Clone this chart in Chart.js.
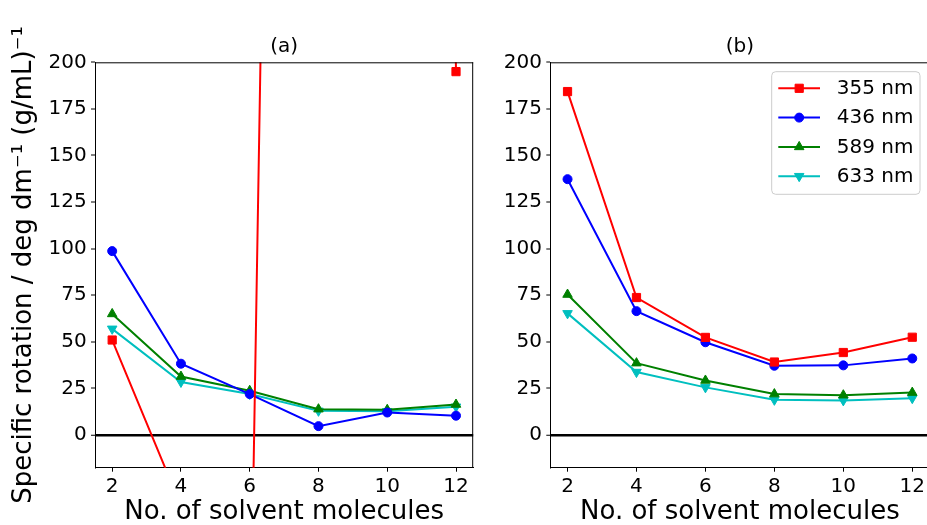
<!DOCTYPE html>
<html lang="en">
<head>
<meta charset="UTF-8">
<title>Specific rotation vs. number of solvent molecules</title>
<script src="https://cdn.jsdelivr.net/npm/chart.js"></script>
<style>
  html, body { margin: 0; padding: 0; background: #fff; overflow: hidden; width: 927px; height: 525px; }
  .panel { position: absolute; top: 0; height: 525px; }
  #panelA { left: 0; width: 480px; }
  #panelB { left: 480px; width: 460px; }
</style>
</head>
<body>
<div class="panel" id="panelA"><canvas id="chartA" width="480" height="525"></canvas></div>
<div class="panel" id="panelB"><canvas id="chartB" width="460" height="525"></canvas></div>

<script>
// data
const molecules = [2, 4, 6, 8, 10, 12];
const xTicks = [2, 4, 6, 8, 10, 12];
const yTicks = [0, 25, 50, 75, 100, 125, 150, 175, 200];
const wavelengths = ['355 nm', '436 nm', '589 nm', '633 nm'];

// panel (a) - the 355 nm series runs far off the axes
const a355 = [51, -38, -140, 2040, 2500, 195];
const a436 = [98.7, 38.3, 22, 4.8, 12.1, 10.4];
const a589 = [65, 31.4, 23.8, 13.9, 13.6, 16.4];
const a633 = [57, 28.5, 22, 13, 12.8, 15.2];

// panel (b)
const b355 = [184.3, 73.8, 52.4, 39.2, 44.3, 52.5];
const b436 = [137.3, 66.5, 49.8, 37.2, 37.4, 41.1];
const b589 = [75.4, 38.6, 29.3, 22, 21.4, 22.8];
const b633 = [65.3, 33.8, 25.6, 18.9, 18.6, 19.8];

const colors = ['#ff0000', '#0000ff', '#008000', '#00bfbf'];
const markers = [
  { pointStyle: 'rect', pointRadius: 5.8, pointRotation: 0 },
  { pointStyle: 'circle', pointRadius: 4.5, pointRotation: 0 },
  { pointStyle: 'triangle', pointRadius: 5.5, pointRotation: 0 },
  { pointStyle: 'triangle', pointRadius: 5.5, pointRotation: 180 }
];

Chart.defaults.font.family = '"DejaVu Sans", sans-serif';
Chart.defaults.color = '#000';

function makeDatasets(series) {
  return series.map((vals, i) => ({
    label: wavelengths[i],
    data: molecules.map((m, j) => ({ x: m, y: vals[j] })),
    borderColor: colors[i],
    backgroundColor: colors[i],
    borderWidth: 2,
    pointBorderWidth: 1,
    pointHoverRadius: markers[i].pointRadius,
    clip: 0,
    ...markers[i]
  }));
}

// top/right spines
const frame = {
  id: 'frame',
  afterDraw(chart) {
    const { ctx, chartArea: a } = chart;
    ctx.save();
    ctx.strokeStyle = '#000';
    ctx.lineWidth = 1;
    ctx.beginPath();
    ctx.moveTo(a.left, a.top + 0.5);
    ctx.lineTo(a.right, a.top + 0.5);
    ctx.moveTo(a.right - 0.5, a.top);
    ctx.lineTo(a.right - 0.5, a.bottom);
    ctx.stroke();
    ctx.restore();
  }
};

// matplotlib-like legend: line with marker in the middle
const lineLegend = {
  id: 'lineLegend',
  afterDraw(chart) {
    const { ctx, chartArea } = chart;
    const sets = chart.data.datasets;
    const w = 148.3, h = 122.6;
    const left = chartArea.right - 9.5 - w;
    const top = chartArea.top + 9.4;
    ctx.save();
    ctx.beginPath();
    ctx.roundRect(left, top, w, h, 4);
    ctx.fillStyle = 'rgba(255,255,255,0.8)';
    ctx.fill();
    ctx.strokeStyle = '#cccccc';
    ctx.lineWidth = 1;
    ctx.stroke();
    sets.forEach((ds, i) => {
      const y = top + 16.6 + i * 29.3;
      ctx.strokeStyle = ds.borderColor;
      ctx.lineWidth = 2;
      ctx.beginPath();
      ctx.moveTo(left + 6.6, y);
      ctx.lineTo(left + 48.3, y);
      ctx.stroke();
      ctx.fillStyle = ds.backgroundColor;
      ctx.lineWidth = 1;
      Chart.helpers.drawPoint(ctx, {
        pointStyle: ds.pointStyle, radius: ds.pointRadius,
        rotation: ds.pointRotation, borderWidth: 1
      }, left + 27.5, y);
      ctx.fillStyle = '#000';
      ctx.font = '20px "DejaVu Sans"';
      ctx.textBaseline = 'middle';
      ctx.textAlign = 'left';
      ctx.fillText(ds.label, left + 65, y + 0.5);
    });
    ctx.restore();
  }
};

function makeOptions(title, yWidth, padRight, showYTitle) {
  return {
    responsive: false,
    animation: false,
    events: [],
    layout: { padding: { left: 0, right: padRight, top: 0, bottom: 0 } },
    plugins: {
      legend: { display: false },
      tooltip: { enabled: false },
      title: {
        display: true, text: title, fullSize: false,
        font: { size: 20, weight: 'normal', lineHeight: 1.2 },
        padding: { top: 34.3, bottom: 4 }
      }
    },
    scales: {
      x: {
        type: 'linear', min: 1.5, max: 12.5,
        afterBuildTicks: s => { s.ticks = xTicks.map(v => ({ value: v })); },
        afterFit: s => { s.height = 57.3; },
        ticks: { font: { size: 20 }, padding: 3, maxRotation: 0 },
        grid: { drawOnChartArea: false, tickLength: 4, tickColor: '#000', tickWidth: 1 },
        border: { display: true, color: '#000', width: 1 },
        title: {
          display: true, text: 'No. of solvent molecules',
          font: { size: 26, lineHeight: 1 }, padding: { top: 0, bottom: 0 }
        }
      },
      y: {
        type: 'linear', min: -17.5, max: 200, z: 1,
        afterBuildTicks: s => { s.ticks = yTicks.map(v => ({ value: v })); },
        afterFit: s => { s.width = yWidth; },
        ticks: { font: { size: 20 }, padding: 4.3 },
        grid: {
          color: c => (c.tick && c.tick.value === 0) ? '#000' : 'rgba(0,0,0,0)',
          lineWidth: c => (c.tick && c.tick.value === 0) ? 2.5 : 0,
          tickLength: 4, tickColor: '#000', tickWidth: 1
        },
        border: { display: true, color: '#000', width: 1 },
        title: {
          display: showYTitle,
          text: 'Specific rotation / deg dm\u207B\u00B9 (g/mL)\u207B\u00B9',
          font: { size: 26, lineHeight: 1 }, padding: { top: 11, bottom: 0 }
        }
      }
    }
  };
}

new Chart(document.getElementById('chartA'), {
  type: 'line',
  data: { datasets: makeDatasets([a355, a436, a589, a633]) },
  options: makeOptions('(a)', 95, 6, true),
  plugins: [frame]
});

new Chart(document.getElementById('chartB'), {
  type: 'line',
  data: { datasets: makeDatasets([b355, b436, b589, b633]) },
  options: makeOptions('(b)', 70.3, 10.5, false),
  plugins: [frame, lineLegend]
});
</script>
</body>
</html>
